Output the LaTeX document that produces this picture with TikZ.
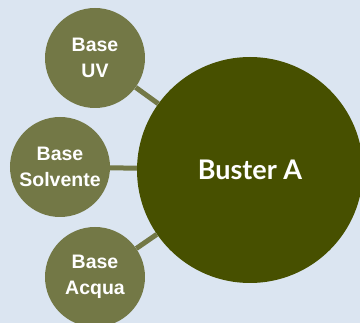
\documentclass[tikz,border=0pt]{standalone}
\usepackage{fontspec}
\setmainfont{Liberation Sans}
\newfontfamily\latofont{Lato}
\definecolor{bgc}{HTML}{DBE5F1}
\definecolor{smallc}{HTML}{737846}
\definecolor{bigc}{HTML}{475000}
\begin{document}
\begin{tikzpicture}[x=1pt,y=-1pt,
  small/.style={circle,fill=smallc,minimum size=100pt,inner sep=0pt,text=white,align=center,
    font=\fontsize{19.5}{25.5}\selectfont\bfseries},
  big/.style={circle,fill=bigc,minimum size=226pt,inner sep=0pt,text=white,
    font=\latofont\fontsize{27}{30}\selectfont\bfseries},
  conn/.style={draw=smallc,line width=5pt}]
\fill[bgc] (0,0) rectangle (360,323);
\useasboundingbox (0,0) rectangle (360,323);
\node[big] (b) at (250,170) {Buster A};
\node[small] (uv) at (95,58) {Base\\UV};
\node[small] (so) at (60,167) {Base\\Solvente};
\node[small] (aq) at (95,277) {Base\\Acqua};
\draw[conn] (uv) -- (b);
\draw[conn] (so) -- (b);
\draw[conn] (aq) -- (b);
\end{tikzpicture}
\end{document}
